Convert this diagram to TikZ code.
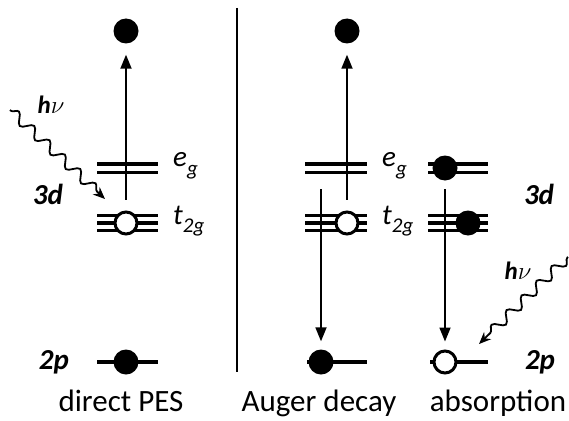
\documentclass[tikz,border=0pt]{standalone}
\usepackage{fontspec}
\setmainfont{Carlito}
\usetikzlibrary{arrows.meta,decorations.pathmorphing}
\begin{document}
\begin{tikzpicture}[x=1pt,y=-1pt,
  level/.style={line width=3.2pt},
  trans/.style={line width=1.8pt,-{Triangle[length=14pt,width=11pt]}},
  hole/.style={circle,draw,line width=3pt,fill=white,minimum size=22pt,inner sep=0pt},
  elec/.style={circle,fill=black,minimum size=25pt,inner sep=0pt},
  photon/.style={line width=1.8pt,decorate,decoration={snake,amplitude=5pt,segment length=21pt,pre length=1pt,post length=9pt},-{Stealth[length=12pt,width=10pt]}},
  orb/.style={font=\fontsize{29}{29}\selectfont\itshape,anchor=west,inner sep=0pt},
  shell/.style={font=\fontsize{29}{29}\selectfont\bfseries\itshape,inner sep=0pt},
  photonlbl/.style={font=\fontsize{25}{25}\selectfont,inner sep=0pt},
  caption/.style={font=\fontsize{31}{31}\selectfont,anchor=base,inner sep=0pt}]
\useasboundingbox (0,0) rectangle (569,420);
\fill[white] (0,0) rectangle (569,420);

% divider
\draw[line width=2pt] (237,8) -- (237,372);

% ---------- direct PES ----------
\draw[level] (97,164) -- (158,164);
\draw[level] (97,172.5) -- (158,172.5);
\foreach \y in {215.5,223,230.5} \draw[level] (97,\y) -- (158,\y);
\draw[level] (97,362) -- (158,362);
\node[hole] (h1) at (126,223) {};
\node[elec] (top1) at (126,31) {};
\node[elec] (c1) at (126,362) {};
\draw[trans,shorten <=11pt,shorten >=11pt] (h1) -- (top1);
\node[orb] (eg1) at (173,166) {e\raisebox{-0.3em}{\fontsize{21}{21}\selectfont g}};
\node[orb] (t1) at (173,221) {t\raisebox{-0.3em}{\fontsize{21}{21}\selectfont 2g}};
\node[shell] (d1) at (48,194) {3d};
\node[shell] (p1) at (54,362) {2p};
\node[photonlbl] (hv1) at (51,105) {\textbf{\textit{h}}$\nu$};
\coordinate (ph1s) at (10,110);
\coordinate (ph1e) at (105,199);
\draw[photon] (ph1s) -- (ph1e);
\node[caption] (cap1) at (121,411) {direct PES};

% ---------- Auger decay ----------
\draw[level] (305,164) -- (367,164);
\draw[level] (305,172.5) -- (367,172.5);
\foreach \y in {215.5,223,230.5} \draw[level] (305,\y) -- (367,\y);
\draw[level] (307,362) -- (367,362);
\coordinate (a1) at (321,168);
\node[hole] (h2) at (347,223) {};
\node[elec] (top2) at (347,31) {};
\node[elec] (c2) at (321,362) {};
\draw[trans,shorten <=11pt,shorten >=11pt] (h2) -- (top2);
\draw[trans,shorten <=21pt,shorten >=8pt] (a1) -- (c2);
\node[orb] (eg2) at (382,166) {e\raisebox{-0.3em}{\fontsize{21}{21}\selectfont g}};
\node[orb] (t2) at (382,221) {t\raisebox{-0.3em}{\fontsize{21}{21}\selectfont 2g}};
\node[caption] (cap2) at (319,411) {Auger decay};

% ---------- absorption ----------
\draw[level] (428,164) -- (488,164);
\draw[level] (428,172.5) -- (488,172.5);
\foreach \y in {215.5,223,230.5} \draw[level] (428,\y) -- (488,\y);
\draw[level] (430,362) -- (488,362);
\coordinate (a2) at (445,168);
\node[elec] (e3) at (445,168) {};
\node[elec] (t3) at (468,223) {};
\node[hole] (h3) at (445,362) {};
\draw[trans,shorten <=21pt,shorten >=8pt] (a2) -- (h3);
\node[shell] (d2) at (539,194) {3d};
\node[shell] (p2) at (540,362) {2p};
\node[photonlbl] (hv2) at (518,271) {\textbf{\textit{h}}$\nu$};
\coordinate (ph2s) at (568,257);
\coordinate (ph2e) at (479,344);
\draw[photon] (ph2s) -- (ph2e);
\node[caption] (cap3) at (498,411) {absorption};
\end{tikzpicture}
\end{document}
